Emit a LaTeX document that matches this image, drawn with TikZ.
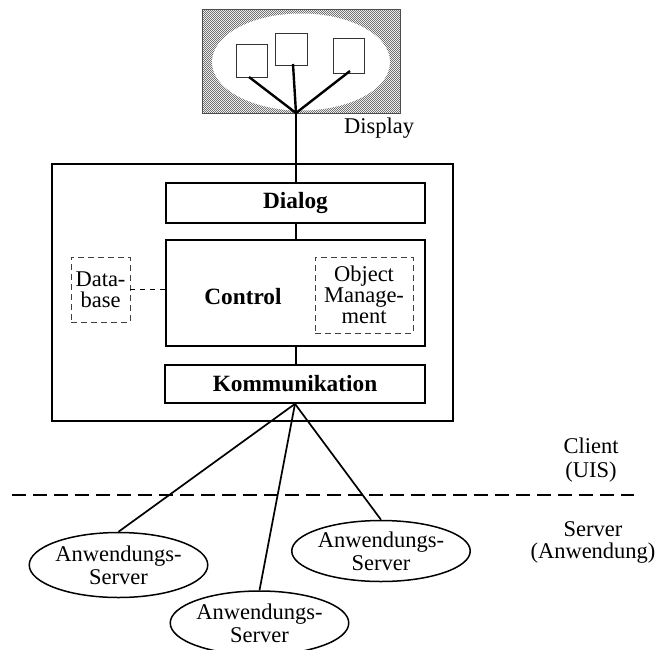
\documentclass[tikz,border=0pt]{standalone}
\usepackage{fontspec}
\setmainfont{Liberation Serif}
\usetikzlibrary{shapes.geometric,patterns}

% fine checkerboard stipple for the display background
\pgfdeclarepatternformonly{stipple}{\pgfqpoint{0pt}{0pt}}{\pgfqpoint{2.4pt}{2.4pt}}{\pgfqpoint{2.4pt}{2.4pt}}{%
  \pgfpathrectangle{\pgfqpoint{0pt}{0pt}}{\pgfqpoint{1.2pt}{1.2pt}}%
  \pgfpathrectangle{\pgfqpoint{1.2pt}{1.2pt}}{\pgfqpoint{1.2pt}{1.2pt}}%
  \pgfusepath{fill}}

\tikzset{
  txt/.style={font=\fontsize{22.5}{24}\selectfont, inner sep=0pt, align=center},
  boldtxt/.style={font=\fontsize{23.3}{24}\selectfont\bfseries},
  layerbox/.style={draw, line width=1.7pt, rectangle, inner sep=0pt, boldtxt},
  dashbox/.style={draw=black!75, line width=0.7pt, dash pattern=on 6pt off 4pt,
                  rectangle, inner sep=0pt, txt, font=\fontsize{22.5}{21}\selectfont},
  window/.style={draw=black!80, line width=0.8pt, fill=white, rectangle, inner sep=0pt},
  server/.style={draw, line width=1.5pt, ellipse, inner sep=0pt, txt,
                 font=\fontsize{22.5}{23}\selectfont},
  wire/.style={line width=1.7pt},
  thickwire/.style={line width=2.4pt},
}

\begin{document}
\begin{tikzpicture}[x=1pt, y=-1pt]
  \useasboundingbox (0,0) rectangle (659,649);

  % display with its screen and windows
  \node (display) [rectangle, draw=black!70, line width=0.6pt, pattern=stipple,
        pattern color=black!55, minimum width=198pt, minimum height=104pt,
        inner sep=0pt] at (301,61) {};
  \node (screen) [ellipse, fill=white, minimum width=178pt, minimum height=97pt,
        inner sep=0pt] at (301,62) {};
  \node (win1) [window, minimum width=31pt, minimum height=33pt] at (251.5,60.5) {};
  \node (win2) [window, minimum width=32pt, minimum height=32pt] at (291,49) {};
  \node (win3) [window, minimum width=31pt, minimum height=35pt] at (348.5,55.5) {};
  \coordinate (hub) at (296,113);
  \coordinate (w1) at (249,77);
  \coordinate (w2) at (293,64);
  \coordinate (w3) at (350,71);
  \draw[thickwire] (w1) -- (hub);
  \draw[thickwire] (w2) -- (hub);
  \draw[thickwire] (w3) -- (hub);
  \node (displaylabel) [txt] at (379,128) {Display};

  % client block
  \node (client) [rectangle, draw, line width=1.6pt, minimum width=401pt,
        minimum height=257pt, inner sep=0pt] at (252.5,292.5) {};
  \node (dialog) [layerbox, minimum width=259pt, minimum height=40pt] at (295.5,203) {Dialog};
  \node (control) [layerbox, minimum width=259pt, minimum height=106pt] at (295.5,293) {};
  \node (controltext) [boldtxt, inner sep=0pt] at (243,297) {Control};
  \node (komm) [layerbox, minimum width=260pt, minimum height=38pt] at (295,384) {Kommunikation};
  \node (objmgmt) [dashbox, minimum width=98pt, minimum height=76pt] at (364,295)
        {Object\\Manage-\\ment};
  \node (database) [dashbox, minimum width=59pt, minimum height=65pt] at (100.5,289.5)
        {Data-\\base};

  \draw[wire] (hub) -- (dialog.north -| hub);
  \draw[wire] (dialog.south -| hub) -- (control.north -| hub);
  \draw[wire] (control.south -| hub) -- (komm.north -| hub);
  \draw[line width=1.2pt, dash pattern=on 5pt off 5pt]
       (database.east) -- (database.east -| control.west);

  % client / server boundary
  \coordinate (cutL) at (12,495);
  \coordinate (cutR) at (634,495);
  \draw[line width=1.6pt, dash pattern=on 14pt off 7pt] (cutL) -- (cutR);
  \node (clientlabel) [txt] at (591,460) {Client\\(UIS)};
  \node (serverlabel) [txt, font=\fontsize{22.5}{22}\selectfont] at (593,542) {Server\\(Anwendung)};

  % application servers
  \node (s1) [server, minimum width=157pt, minimum height=65pt] at (118.5,565) {Anwendungs-\\Server};
  \node (s2) [server, minimum width=153pt, minimum height=64pt] at (259.5,623) {Anwendungs-\\Server};
  \node (s3) [server, minimum width=158pt, minimum height=61pt] at (381,551) {Anwendungs-\\Server};

  \draw[wire] (komm.south) -- (s1.north);
  \draw[wire] (komm.south) -- (s2.north);
  \draw[wire] (komm.south) -- (s3.north);
\end{tikzpicture}
\end{document}
